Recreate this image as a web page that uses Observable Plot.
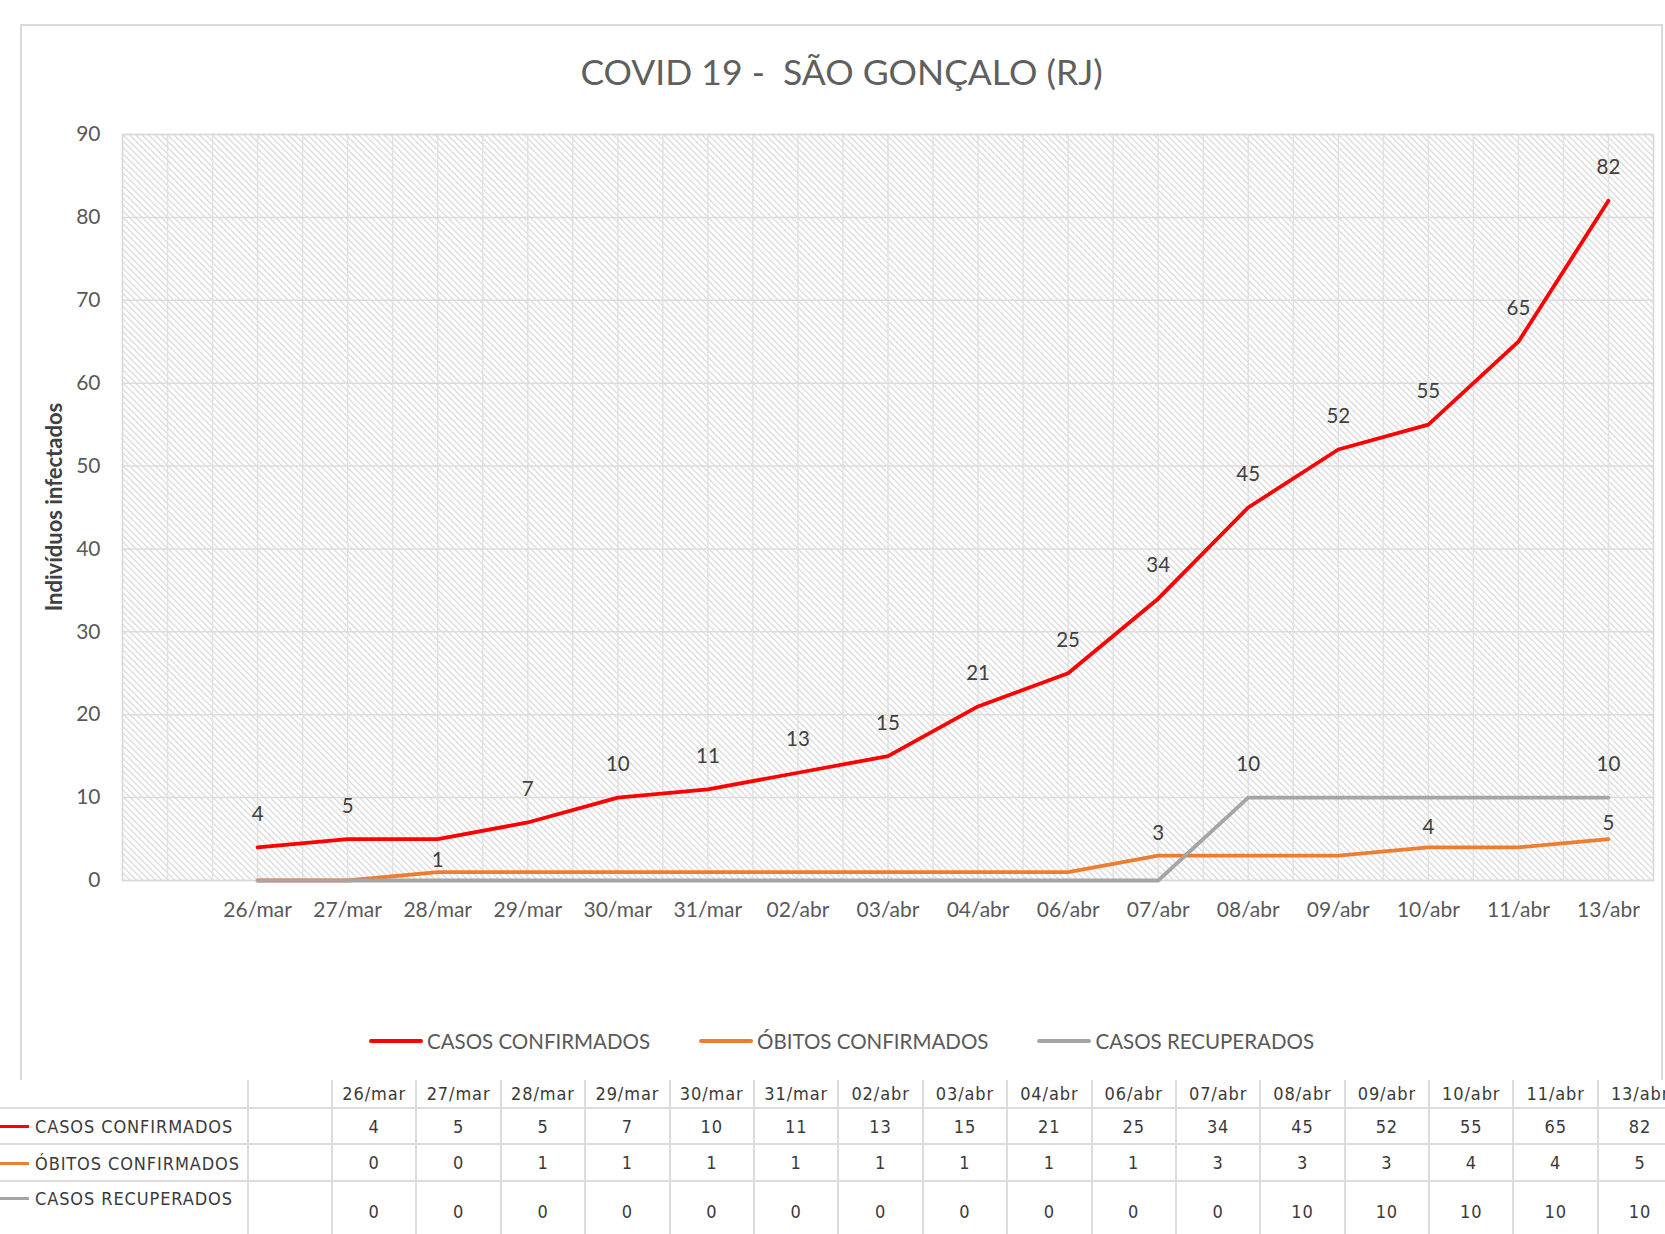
<!DOCTYPE html>
<html>
<head>
<meta charset="utf-8">
<script src="https://cdn.jsdelivr.net/npm/d3@7"></script>
<script src="https://cdn.jsdelivr.net/npm/@observablehq/plot@0.6"></script>
<style>
  body { margin: 0; background: #fff; }
  #root { position: relative; width: 1665px; height: 1234px; overflow: hidden; background: #fff; font-family: Lato, "Open Sans", sans-serif; }
  #frame { position: absolute; left: 20px; top: 24px; width: 1643px; height: 1100px; border: 2px solid #d9d9d9; box-sizing: border-box; }
  #title { position: absolute; left: 21px; width: 1641px; top: 50px; text-align: center; font-size: 35.5px; line-height: 44px; color: #5f5f5f; white-space: pre; }
  #chart { position: absolute; left: 0; top: 0; }
  #ytitle { position: absolute; left: 53px; top: 507px; transform: translate(-50%, -50%) rotate(-90deg); font-weight: bold; font-size: 22px; color: #404040; white-space: nowrap; }
  #legend { position: absolute; top: 1027px; left: 21px; width: 1641px; display: flex; justify-content: center; gap: 49px; font-size: 20.5px; color: #595959; line-height: 28px; }
  #legend .item { display: flex; align-items: center; }
  #legend .sw { width: 54px; height: 4px; border-radius: 2px; margin-right: 4px; }
  #tablewrap { position: absolute; left: 0; top: 1080px; background: #fff; z-index: 2; width: 1700px; height: 160px; }
  table { border-collapse: collapse; table-layout: fixed; font-family: "DejaVu Sans Condensed", "Liberation Sans Narrow", "DejaVu Sans", sans-serif; font-stretch: condensed; font-size: 18px; letter-spacing: 0.9px; color: #3a3a3a; }
  td { border: 2px solid #dcdcdc; padding: 0; text-align: center; white-space: nowrap; overflow: hidden; }
  tr.head td { border-top: none; height: 27px; }
  tr.r1 td { height: 34px; }
  tr.r2 td { height: 35px; }
  tr.r3 td { height: 58px; }
  td.lab { border-left: none; text-align: left; position: relative; }
  td.lab .ln { position: absolute; left: -4px; width: 33px; height: 3px; top: 50%; margin-top: -1px; }
  td.lab .tx { position: absolute; left: 35px; top: 50%; transform: translateY(-50%); }
  tr.r3 td.lab .ln { top: 16px; }
  tr.r3 td.lab .tx { top: 16px; }
  tr.head td.lab { border-bottom: 2px solid #dcdcdc; }
</style>
</head>
<body>
<svg width="0" height="0" style="position:absolute">
  <defs>
    <pattern id="hatch" patternUnits="userSpaceOnUse" width="4.5" height="4.5" patternTransform="rotate(-45)">
      <rect width="4.5" height="4.5" fill="#ffffff"></rect>
      <rect width="1.3" height="4.5" fill="#d9d9d9"></rect>
    </pattern>
  </defs>
</svg>
<div id="root">
  <div id="frame"></div>
  <div id="chart"></div>
  <div id="title"></div>
  <div id="ytitle"></div>
  <div id="legend"></div>
  <div id="tablewrap"></div>
</div>
<script>
// ---- data ----
const titleText = "COVID 19 -  SÃO GONÇALO (RJ)";
const yAxisTitle = "Indivíduos infectados";
const dates = ["26/mar","27/mar","28/mar","29/mar","30/mar","31/mar","02/abr","03/abr","04/abr","06/abr","07/abr","08/abr","09/abr","10/abr","11/abr","13/abr"];
const categories = ["", ...dates]; // leading empty category on the axis
const seriesNames = ["CASOS CONFIRMADOS", "ÓBITOS CONFIRMADOS", "CASOS RECUPERADOS"];
const confirmed = [4,5,5,7,10,11,13,15,21,25,34,45,52,55,65,82];
const deaths    = [0,0,1,1,1,1,1,1,1,1,3,3,3,4,4,5];
const recovered = [0,0,0,0,0,0,0,0,0,0,0,10,10,10,10,10];
const yTicks = [0,10,20,30,40,50,60,70,80,90];
const confirmedHiddenLabelDates = ["28/mar"];
const deathLabelDates = ["28/mar","07/abr","10/abr","13/abr"];
const recoveredLabelDates = ["08/abr","13/abr"];

// ---- styles ----
const colors = ["#ff0000", "#ed7d31", "#a5a5a5"];
const seriesValues = [confirmed, deaths, recovered];
const deathLabelDy = {"28/mar": -12, "07/abr": -22, "10/abr": -20, "13/abr": -16};

const rows = dates.map((d, i) => ({
  x: categories.indexOf(d), date: d,
  confirmed: confirmed[i], deaths: deaths[i], recovered: recovered[i]
}));

document.getElementById("title").textContent = titleText;
document.getElementById("ytitle").textContent = yAxisTitle;

const W = 1665, H = 960, plotBottom = 880;
const lineOpts = {strokeWidth: 3.8, strokeLinejoin: "round", strokeLinecap: "round"};
const labelOpts = {fill: "#404040", fontSize: 20.5, fontFamily: "Lato"};

const marks = [
  Plot.frame({fill: "url(#hatch)"}),
  Plot.ruleX(d3.range(-0.5, categories.length, 0.5), {stroke: "#e2e2e2", strokeWidth: 1.5}),
  Plot.ruleY(yTicks, {stroke: "#dcdcdc", strokeWidth: 1.5}),
  Plot.frame({stroke: "#d9d9d9", strokeWidth: 1.5}),
  Plot.line(rows, {x: "x", y: "confirmed", stroke: colors[0], ...lineOpts}),
  Plot.line(rows, {x: "x", y: "deaths", stroke: colors[1], ...lineOpts}),
  Plot.line(rows, {x: "x", y: "recovered", stroke: colors[2], ...lineOpts}),
  Plot.text(rows.filter(d => !confirmedHiddenLabelDates.includes(d.date)), {x: "x", y: "confirmed", text: d => String(d.confirmed), dy: -33, ...labelOpts}),
  Plot.text(rows.filter(d => recoveredLabelDates.includes(d.date)), {x: "x", y: "recovered", text: d => String(d.recovered), dy: -33, ...labelOpts}),
  ...deathLabelDates.map(dt => Plot.text(rows.filter(d => d.date === dt), {x: "x", y: "deaths", text: d => String(d.deaths), dy: deathLabelDy[dt], ...labelOpts}))
];

const chart = Plot.plot({
  width: W, height: H,
  marginLeft: 122, marginRight: 12, marginTop: 134, marginBottom: H - plotBottom,
  style: {background: "transparent", fontFamily: "Lato", fontSize: "21px", color: "#595959", overflow: "visible"},
  x: {type: "linear", domain: [-0.5, categories.length - 0.5], ticks: dates.map(d => categories.indexOf(d)), tickFormat: i => categories[i], tickSize: 0, tickPadding: 22, label: null},
  y: {domain: [0, 90], ticks: yTicks, tickSize: 0, tickPadding: 22, label: null},
  marks
});
chart.style.maxWidth = "none";
document.getElementById("chart").appendChild(chart);

// ---- legend ----
const legend = document.getElementById("legend");
seriesNames.forEach((name, i) => {
  const it = document.createElement("div"); it.className = "item";
  const sw = document.createElement("div"); sw.className = "sw"; sw.style.background = colors[i];
  const tx = document.createElement("span"); tx.textContent = name;
  it.appendChild(sw); it.appendChild(tx); legend.appendChild(it);
});

// ---- data table ----
const table = document.createElement("table");
const colg = document.createElement("colgroup");
[248, 84].concat(dates.map(() => 84.4)).forEach(w => { const c = document.createElement("col"); c.style.width = w + "px"; colg.appendChild(c); });
table.appendChild(colg);
const head = document.createElement("tr"); head.className = "head";
head.appendChild(Object.assign(document.createElement("td"), {className: "lab"}));
head.appendChild(document.createElement("td"));
dates.forEach(d => head.appendChild(Object.assign(document.createElement("td"), {textContent: d})));
table.appendChild(head);
seriesNames.forEach((name, s) => {
  const tr = document.createElement("tr"); tr.className = "r" + (s + 1);
  const lab = document.createElement("td"); lab.className = "lab";
  const ln = document.createElement("div"); ln.className = "ln"; ln.style.background = colors[s];
  const tx = document.createElement("div"); tx.className = "tx"; tx.textContent = name;
  lab.appendChild(ln); lab.appendChild(tx); tr.appendChild(lab);
  tr.appendChild(document.createElement("td"));
  seriesValues[s].forEach(v => tr.appendChild(Object.assign(document.createElement("td"), {textContent: String(v)})));
  table.appendChild(tr);
});
document.getElementById("tablewrap").appendChild(table);
</script>
</body>
</html>
